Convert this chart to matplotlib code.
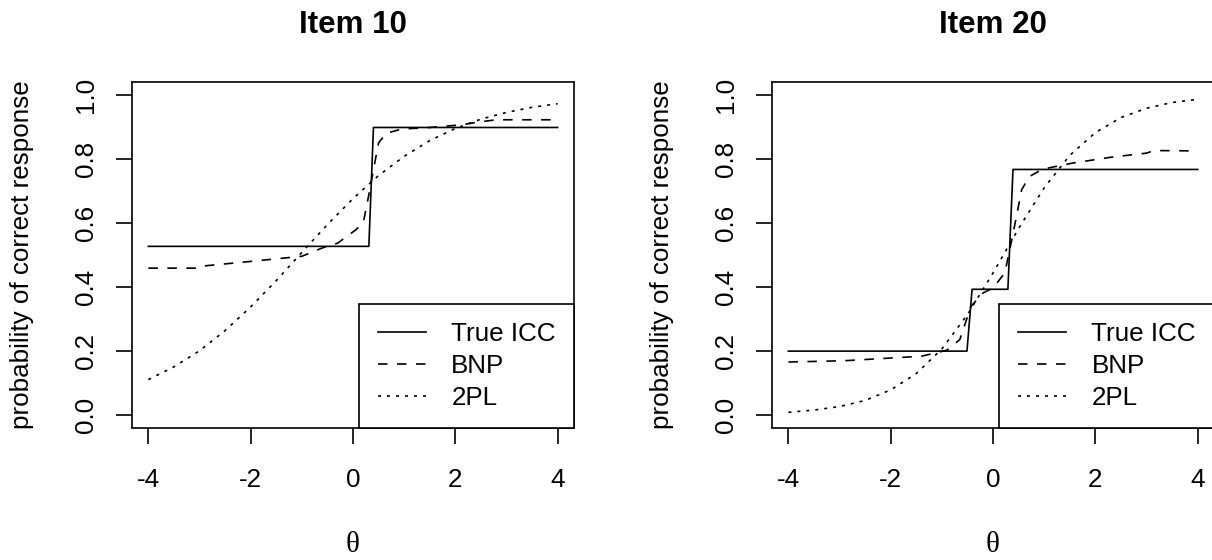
import matplotlib.pyplot as plt

plt.rcParams['font.family'] = ['Liberation Sans', 'DejaVu Sans']
plt.rcParams['axes.unicode_minus'] = False

FS = 18.7
LW = 1.2

# ability grid used for the 2PL curves
theta = [-4, -3.5, -3, -2.5, -2, -1.5, -1, -0.5, 0, 0.5, 1, 1.5, 2, 2.5, 3, 3.5, 4]

# Item 10
item10_true_x = [-4, 0.31, 0.40, 4]
item10_true_y = [0.527, 0.527, 0.898, 0.898]
item10_bnp_x = [-4, -3.0, -2.9, -2.0, -1.0, -0.6, -0.3, 0.05, 0.2, 0.3, 0.4, 0.5, 0.65,
                0.95, 1.5, 2.1, 2.5, 2.8, 4.0]
item10_bnp_y = [0.459, 0.459, 0.466, 0.480, 0.496, 0.522, 0.537, 0.578, 0.600, 0.680, 0.766,
                0.850, 0.880, 0.893, 0.898, 0.906, 0.916, 0.922, 0.922]
item10_2pl = [0.111, 0.151, 0.201, 0.264, 0.338, 0.420, 0.508, 0.595, 0.676, 0.748, 0.808,
              0.857, 0.895, 0.924, 0.945, 0.961, 0.972]

# Item 20
item20_true_x = [-4, -0.51, -0.41, 0.29, 0.39, 4]
item20_true_y = [0.200, 0.200, 0.393, 0.393, 0.767, 0.767]
item20_bnp_x = [-4, -2.9, -1.4, -0.9, -0.65, -0.43, -0.2, 0.0, 0.23, 0.38, 0.56, 0.71, 0.97,
                1.56, 2.3, 3.0, 3.15, 3.9]
item20_bnp_y = [0.166, 0.170, 0.184, 0.203, 0.236, 0.340, 0.381, 0.397, 0.444, 0.558, 0.704,
                0.745, 0.768, 0.787, 0.805, 0.818, 0.826, 0.825]
item20_2pl = [0.009, 0.016, 0.027, 0.046, 0.079, 0.130, 0.207, 0.314, 0.444, 0.583, 0.710,
              0.811, 0.882, 0.929, 0.958, 0.976, 0.986]

x_ticks = [-4, -2, 0, 2, 4]
y_ticks = [0.0, 0.2, 0.4, 0.6, 0.8, 1.0]
y_tick_labels = ['0.0', '0.2', '0.4', '0.6', '0.8', '1.0']
legend_labels = ['True ICC', 'BNP', '2PL']


def draw_item(ax, title, true_x, true_y, bnp_x, bnp_y, twopl):
    ax.plot(true_x, true_y, color='black', lw=LW, label=legend_labels[0])
    ax.plot(bnp_x, bnp_y, color='black', lw=LW, dashes=(5.7, 5.7), label=legend_labels[1])
    ax.plot(theta, twopl, color='black', lw=LW, dashes=(1.8, 3.6), label=legend_labels[2])

    ax.set_xlim(-4.32, 4.32)
    ax.set_ylim(-0.04, 1.04)
    ax.set_xticks(x_ticks, [str(t) for t in x_ticks])
    ax.set_yticks(y_ticks, y_tick_labels, rotation=90, va='center')
    ax.tick_params(direction='out', length=11.5, width=LW, labelsize=FS, colors='black')
    ax.tick_params(axis='x', pad=17)
    ax.tick_params(axis='y', pad=13)
    for s in ax.spines.values():
        s.set_linewidth(LW)

    ax.set_title(title, fontsize=22.5, fontweight='bold', pad=35)
    ax.set_xlabel('θ', fontsize=21, family=['Liberation Serif', 'DejaVu Serif'])
    ax.xaxis.set_label_coords(0.5, -0.30)
    ax.set_ylabel('probability of correct response', fontsize=FS)
    ax.yaxis.set_label_coords(-0.222, 0.5)

    leg = ax.legend(loc='lower right', bbox_to_anchor=(1, 0), borderaxespad=0,
                    fontsize=FS, fancybox=False, edgecolor='black', framealpha=1,
                    handlelength=1.88, handletextpad=0.96, labelspacing=0.3,
                    borderpad=0.7)
    leg.get_frame().set_linewidth(LW)


fig = plt.figure(figsize=(12.12, 5.6), dpi=100)
ax1 = fig.add_axes([0.1089, 0.2357, 0.3647, 0.6179])
ax2 = fig.add_axes([0.6370, 0.2357, 0.3647, 0.6179])

draw_item(ax1, 'Item 10', item10_true_x, item10_true_y, item10_bnp_x, item10_bnp_y, item10_2pl)
draw_item(ax2, 'Item 20', item20_true_x, item20_true_y, item20_bnp_x, item20_bnp_y, item20_2pl)

fig.savefig('out.png', dpi=100)
